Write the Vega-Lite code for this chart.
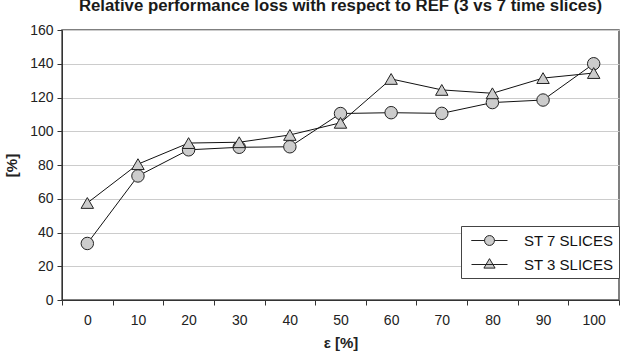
{
  "$schema": "https://vega.github.io/schema/vega-lite/v6.json",
  "width": 557,
  "height": 270,
  "autosize": {"type": "none"},
  "padding": {"left": 62, "top": 30, "right": 6, "bottom": 60},
  "background": "white",
  "title": {
    "text": "Relative performance loss with respect to REF (3 vs 7 time slices)",
    "font": "Liberation Sans",
    "fontSize": 16.8,
    "fontWeight": "bold",
    "color": "#1a1a1a",
    "anchor": "middle",
    "offset": 8
  },
  "config": {
    "view": {"stroke": "#555", "strokeWidth": 1.5},
    "axis": {
      "labelFont": "Liberation Sans",
      "labelFontSize": 14,
      "labelColor": "#222",
      "titleFont": "Liberation Sans",
      "titleFontSize": 15,
      "titleFontWeight": "bold",
      "titleColor": "#222",
      "domainColor": "#333",
      "tickColor": "#333",
      "tickSize": 5
    },
    "legend": {
      "symbolStrokeWidth": 1
    }
  },
  "data": {
    "values": [
      {"eps": 0, "series": "ST 7 SLICES", "value": 33.5},
      {"eps": 10, "series": "ST 7 SLICES", "value": 73.5},
      {"eps": 20, "series": "ST 7 SLICES", "value": 89},
      {"eps": 30, "series": "ST 7 SLICES", "value": 90.5},
      {"eps": 40, "series": "ST 7 SLICES", "value": 90.8},
      {"eps": 50, "series": "ST 7 SLICES", "value": 110.5},
      {"eps": 60, "series": "ST 7 SLICES", "value": 111},
      {"eps": 70, "series": "ST 7 SLICES", "value": 110.6},
      {"eps": 80, "series": "ST 7 SLICES", "value": 117},
      {"eps": 90, "series": "ST 7 SLICES", "value": 118.5},
      {"eps": 100, "series": "ST 7 SLICES", "value": 140},
      {"eps": 0, "series": "ST 3 SLICES", "value": 57.5},
      {"eps": 10, "series": "ST 3 SLICES", "value": 80.5},
      {"eps": 20, "series": "ST 3 SLICES", "value": 93},
      {"eps": 30, "series": "ST 3 SLICES", "value": 93.5},
      {"eps": 40, "series": "ST 3 SLICES", "value": 97.8},
      {"eps": 50, "series": "ST 3 SLICES", "value": 105},
      {"eps": 60, "series": "ST 3 SLICES", "value": 131},
      {"eps": 70, "series": "ST 3 SLICES", "value": 124.5},
      {"eps": 80, "series": "ST 3 SLICES", "value": 122.5},
      {"eps": 90, "series": "ST 3 SLICES", "value": 131.5},
      {"eps": 100, "series": "ST 3 SLICES", "value": 134.5}
    ]
  },
  "encoding": {
    "x": {
      "field": "eps",
      "type": "ordinal",
      "scale": {"paddingInner": 0, "paddingOuter": 0},
      "axis": {
        "title": "ε  [%]",
        "labelAngle": 0,
        "labelPadding": 8,
        "tickBand": "extent",
        "titlePadding": 8,
        "grid": false
      }
    },
    "y": {
      "field": "value",
      "type": "quantitative",
      "scale": {"domain": [0, 160], "nice": false},
      "axis": {
        "title": "[%]",
        "values": [0, 20, 40, 60, 80, 100, 120, 140, 160],
        "grid": true,
        "gridColor": "#cccccc",
        "gridWidth": 1,
        "labelPadding": 4,
        "titlePadding": 10
      }
    }
  },
  "layer": [
    {
      "mark": {"type": "line", "color": "#111", "strokeWidth": 1},
      "encoding": {"detail": {"field": "series"}}
    },
    {
      "transform": [{"filter": "datum.series === 'ST 7 SLICES'"}],
      "mark": {"type": "point", "shape": "circle", "filled": true, "fill": "#cccccc", "stroke": "#222", "strokeWidth": 1, "opacity": 1, "size": 155}
    },
    {
      "transform": [{"filter": "datum.series === 'ST 3 SLICES'"}],
      "mark": {"type": "point", "shape": "triangle-up", "filled": true, "fill": "#cccccc", "stroke": "#222", "strokeWidth": 1, "opacity": 1, "size": 155}
    },
    {
      "mark": {"type": "point", "filled": false, "fill": "#cccccc", "strokeWidth": 1, "opacity": 0},
      "encoding": {
        "stroke": {
          "field": "series",
          "type": "nominal",
          "scale": {"domain": ["ST 7 SLICES", "ST 3 SLICES"], "range": ["#222222", "#222222"]},
          "legend": {
            "title": null,
            "orient": "none",
            "legendX": 399,
            "legendY": 196
          }
        },
        "shape": {
          "field": "series",
          "type": "nominal",
          "scale": {
            "domain": ["ST 7 SLICES", "ST 3 SLICES"],
            "range": [
              "M-2,0H-0.55A0.55,0.55 0 1 1 0.55,0A0.55,0.55 0 1 1 -0.55,0ZM0.55,0H2",
              "M-2,0H2M-0.62,0.4L0,-0.65L0.62,0.4Z"
            ]
          },
          "legend": {
            "title": null,
            "orient": "none",
            "legendX": 399,
            "legendY": 196,
            "padding": 5,
            "strokeColor": "#444",
            "fillColor": "white",
            "symbolSize": 324,
            "symbolOpacity": 1,
            "symbolFillColor": "#cccccc",
            "symbolStrokeWidth": 1,
            "symbolOffset": 14,
            "labelFont": "Liberation Sans",
            "labelFontSize": 15,
            "labelColor": "#111",
            "labelOffset": 25,
            "labelExpr": "datum.label + '    '",
            "rowPadding": 6
          }
        },
        "size": {"value": 155}
      }
    }
  ]
}
